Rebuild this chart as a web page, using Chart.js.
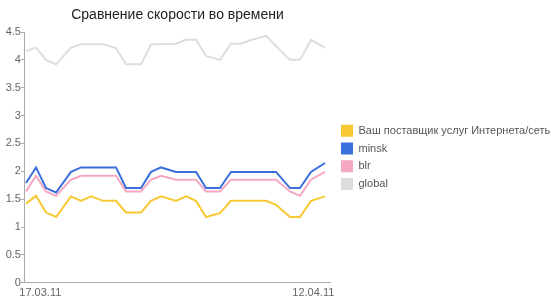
<!DOCTYPE html>
<html><head><meta charset="utf-8">
<script src="https://cdn.jsdelivr.net/npm/chart.js@4/dist/chart.umd.min.js"></script>
<style>html,body{margin:0;padding:0;background:#fff}#wrap{width:558px;height:304px;position:relative}</style>
</head><body><div id="wrap"><canvas id="c"></canvas></div>
<script>
const titleText = 'Сравнение скорости во времени';
const seriesNames = ['Ваш поставщик услуг Интернета/сеть', 'minsk', 'blr', 'global'];
// measurement times, in days after 16.03.11 00:00
const dayOffsets = [-0.36,0.59,1.54,2.50,3.92,4.88,5.83,6.97,8.21,9.16,10.59,11.54,12.50,13.92,14.88,15.83,16.78,18.11,19.16,20.11,21.16,22.50,23.45,24.78,25.73,26.78,28.11];
const ispValues    = [1.42,1.56,1.26,1.18,1.55,1.47,1.55,1.47,1.47,1.26,1.26,1.47,1.55,1.47,1.55,1.47,1.18,1.25,1.47,1.47,1.47,1.47,1.40,1.18,1.18,1.47,1.55];
const minskValues  = [1.79,2.07,1.70,1.62,1.99,2.07,2.07,2.07,2.07,1.70,1.70,1.99,2.07,1.99,1.99,1.99,1.70,1.70,1.99,1.99,1.99,1.99,1.99,1.70,1.70,1.99,2.15];
const blrValues    = [1.64,1.92,1.64,1.56,1.85,1.92,1.92,1.92,1.92,1.64,1.64,1.85,1.92,1.85,1.85,1.85,1.64,1.64,1.85,1.85,1.85,1.85,1.85,1.64,1.56,1.85,1.99];
const globalValues = [4.16,4.22,4.00,3.92,4.22,4.28,4.28,4.28,4.21,3.92,3.92,4.28,4.28,4.29,4.36,4.36,4.07,4.00,4.29,4.29,4.36,4.43,4.25,4.00,4.00,4.36,4.22];
const xTickDays = [1, 27];
const xTickLabels = ['17.03.11', '12.04.11'];
const yMin = 0, yMax = 4.5, yStep = 0.5;

const colors = ['#f8c832', '#3a6fdc', '#f5a8c3', '#dddddd'];
const allValues = [ispValues, minskValues, blrValues, globalValues];
const pts = vals => vals.map((v, i) => ({x: dayOffsets[i], y: v}));

const FONT = "'Liberation Sans', Arial, sans-serif";
new Chart(document.getElementById('c'), {
  type: 'line',
  data: {
    datasets: seriesNames.map((n, k) => ({
      label: n,
      data: pts(allValues[k]),
      borderColor: colors[k],
      backgroundColor: colors[k],
      borderWidth: 2,
      pointRadius: 0,
      tension: 0,
      fill: false
    }))
  },
  options: {
    responsive: true,
    maintainAspectRatio: false,
    animation: false,
    layout: {padding: {left: 5.7, right: 0, top: 0, bottom: 0}},
    plugins: {
      title: {
        display: true, text: titleText, fullSize: false,
        color: '#222', font: {family: FONT, size: 14, weight: 'normal'},
        padding: {top: 6.5, bottom: 8.7}
      },
      legend: {
        position: 'right', align: 'center', fullSize: false, maxWidth: 222.7,
        labels: {
          color: '#555', font: {family: FONT, size: 11},
          boxWidth: 12, boxHeight: 12, padding: 5.7,
          generateLabels(chart) {
            return Chart.defaults.plugins.legend.labels.generateLabels(chart).map(l => Object.assign(l, {lineWidth: 0, strokeStyle: 'rgba(0,0,0,0)'}));
          }
        }
      },
      tooltip: {enabled: false}
    },
    scales: {
      x: {
        type: 'linear', min: -0.46, max: 28.59,
        afterBuildTicks(axis) { axis.ticks = xTickDays.map(v => ({value: v})); },
        grid: {display: false, drawTicks: false},
        border: {display: true, color: '#aaa', width: 1},
        ticks: {
          autoSkip: false, maxRotation: 0, minRotation: 0, padding: 4,
          color: '#666', font: {family: FONT, size: 11},
          callback: (v, i) => xTickLabels[i]
        }
      },
      y: {
        min: yMin, max: yMax,
        grid: {display: true, drawOnChartArea: false, drawTicks: true, tickLength: 4, color: '#aaa'},
        border: {display: true, color: '#aaa', width: 1},
        ticks: {stepSize: yStep, padding: 0, color: '#666', font: {family: FONT, size: 11},
          callback: v => String(Number(v.toFixed(1)))}
      },
      gap: {
        type: 'linear', position: 'right', display: true,
        grid: {display: false}, border: {display: false}, ticks: {display: false},
        afterFit(s) { s.width = 5.3; }
      }
    }
  }
});
</script></body></html>
